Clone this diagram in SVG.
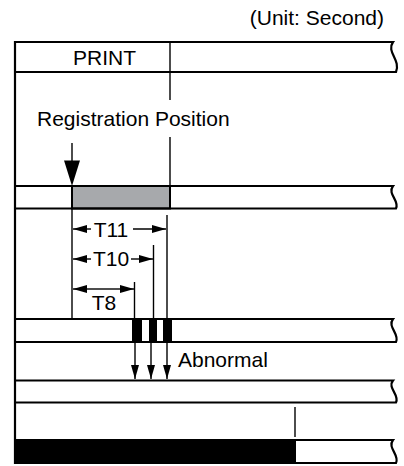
<svg xmlns="http://www.w3.org/2000/svg" width="404" height="466" viewBox="0 0 404 466">
<style>
text{font-family:"Liberation Sans",Arial,Helvetica,sans-serif;font-size:21px;fill:#000}
.band{fill:none;stroke:#000;stroke-width:2.2}
.thin{stroke:#000;stroke-width:1.4;fill:none}
.dim{stroke:#000;stroke-width:1.4;fill:none}
</style>
<defs>
<marker id="ah" markerWidth="15" markerHeight="9" refX="14" refY="4.5" orient="auto" markerUnits="userSpaceOnUse">
<path d="M0,0.5 L14,4.5 L0,8.5 Z" fill="#000"/>
</marker>
</defs>
<text x="384" y="25" text-anchor="end">(Unit: Second)</text>
<g id="border"><line x1="15" y1="41" x2="15" y2="464" stroke="#000" stroke-width="2.2"/></g>
<g id="band-print">
<path class="band" d="M15,42 H393 C386,52 401,60 396,72 H15"/>
<line class="thin" x1="170" y1="42" x2="170" y2="100"/>
<text x="73" y="65">PRINT</text>
</g>
<g id="label-registration"><text x="37" y="126">Registration Position</text></g>
<g id="band-registration">
<rect x="72" y="186" width="98" height="22.5" fill="#a7a9ac" stroke="#000" stroke-width="2"/>
<path class="band" d="M15,186 H393 C387,194 400,201 396,208.5 H15"/>
<line class="thin" x1="170" y1="137" x2="170" y2="186"/>
</g>
<g id="band-sensor">
<rect x="132" y="319" width="10" height="23" fill="#000"/>
<rect x="149" y="319" width="8" height="23" fill="#000"/>
<rect x="163" y="319" width="9" height="23" fill="#000"/>
<path class="band" d="M15,319 H393 C387,327 400,334 396,342 H15"/>
</g>
<g id="band-4">
<path class="band" d="M15,380.5 H393 C387,388 400,395 396,402.5 H15"/>
</g>
<g id="band-5">
<rect x="15" y="440" width="281" height="23" fill="#000"/>
<path class="band" d="M15,440 H393 C387,448 400,455 396,463 H15"/>
<line class="thin" x1="295" y1="407" x2="295" y2="437"/>
</g>
<g id="connectors">
<line class="thin" x1="72" y1="143" x2="72" y2="162"/>
<path d="M64,160.5 L80,160.5 L72,186 Z" fill="#000"/>
<line class="thin" x1="72" y1="209" x2="72" y2="319"/>
<line class="thin" x1="167" y1="215" x2="167" y2="319"/>
<line class="thin" x1="153.5" y1="245" x2="153.5" y2="319"/>
<line class="thin" x1="134.5" y1="282" x2="134.5" y2="319"/>
<line class="dim" x1="91" y1="229" x2="73" y2="229" marker-end="url(#ah)"/>
<line class="dim" x1="133" y1="229" x2="166" y2="229" marker-end="url(#ah)"/>
<line class="dim" x1="91" y1="259" x2="73" y2="259" marker-end="url(#ah)"/>
<line class="dim" x1="131" y1="259" x2="153" y2="259" marker-end="url(#ah)"/>
<line class="dim" x1="104" y1="289" x2="73" y2="289" marker-end="url(#ah)"/>
<line class="dim" x1="104" y1="289" x2="134" y2="289" marker-end="url(#ah)"/>
<line class="dim" x1="135" y1="342" x2="135" y2="379" marker-end="url(#ah)"/>
<line class="dim" x1="151" y1="342" x2="151" y2="379" marker-end="url(#ah)"/>
<line class="dim" x1="167" y1="342" x2="167" y2="379" marker-end="url(#ah)"/>
</g>
<g id="dim-labels">
<text x="111" y="237" text-anchor="middle">T11</text>
<text x="111" y="266" text-anchor="middle">T10</text>
<text x="104" y="310" text-anchor="middle">T8</text>
<text x="178" y="367">Abnormal</text>
</g>
</svg>
